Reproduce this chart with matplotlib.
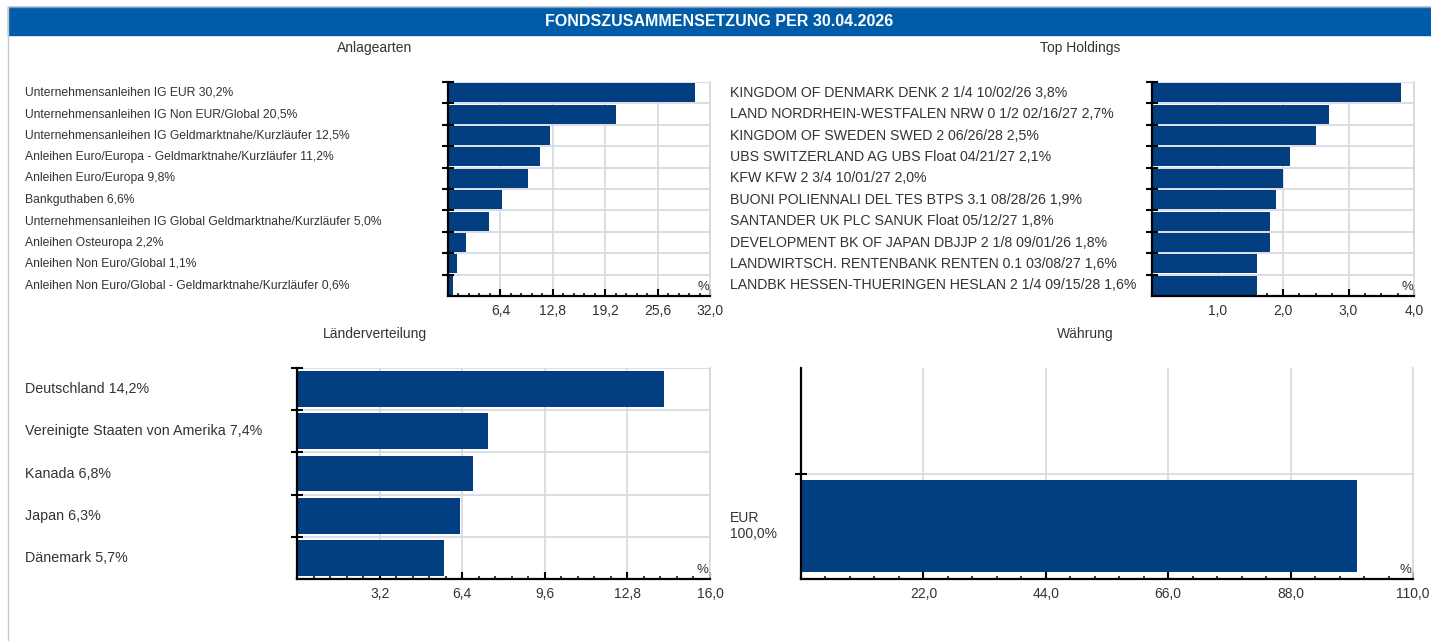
import numpy as np
import matplotlib
matplotlib.use("Agg")
import matplotlib.pyplot as plt
from matplotlib.patches import Rectangle
from matplotlib.lines import Line2D
from matplotlib.ticker import MultipleLocator, AutoMinorLocator, FuncFormatter
from matplotlib.transforms import blended_transform_factory

plt.rcParams["font.family"] = ["Liberation Sans", "DejaVu Sans"]

title = "FONDSZUSAMMENSETZUNG PER 30.04.2026"

anlage_names = [
    "Unternehmensanleihen IG EUR",
    "Unternehmensanleihen IG Non EUR/Global",
    "Unternehmensanleihen IG Geldmarktnahe/Kurzläufer",
    "Anleihen Euro/Europa - Geldmarktnahe/Kurzläufer",
    "Anleihen Euro/Europa",
    "Bankguthaben",
    "Unternehmensanleihen IG Global Geldmarktnahe/Kurzläufer",
    "Anleihen Osteuropa",
    "Anleihen Non Euro/Global",
    "Anleihen Non Euro/Global - Geldmarktnahe/Kurzläufer",
]
anlage_values = [30.2, 20.5, 12.5, 11.2, 9.8, 6.6, 5.0, 2.2, 1.1, 0.6]

holding_names = [
    "KINGDOM OF DENMARK DENK 2 1/4 10/02/26",
    "LAND NORDRHEIN-WESTFALEN NRW 0 1/2 02/16/27",
    "KINGDOM OF SWEDEN SWED 2 06/26/28",
    "UBS SWITZERLAND AG UBS Float 04/21/27",
    "KFW KFW 2 3/4 10/01/27",
    "BUONI POLIENNALI DEL TES BTPS 3.1 08/28/26",
    "SANTANDER UK PLC SANUK Float 05/12/27",
    "DEVELOPMENT BK OF JAPAN DBJJP 2 1/8 09/01/26",
    "LANDWIRTSCH. RENTENBANK RENTEN 0.1 03/08/27",
    "LANDBK HESSEN-THUERINGEN HESLAN 2 1/4 09/15/28",
]
holding_values = [3.8, 2.7, 2.5, 2.1, 2.0, 1.9, 1.8, 1.8, 1.6, 1.6]

country_names = [
    "Deutschland",
    "Vereinigte Staaten von Amerika",
    "Kanada",
    "Japan",
    "Dänemark",
]
country_values = [14.2, 7.4, 6.8, 6.3, 5.7]

currency_names = ["EUR"]
currency_values = [100.0]

BAR = "#023e80"
HEADER = "#005ca8"
GRID = "#d5d8e0"
TEXT = "#333333"
W, H = 1431, 641


def de(v):
    return f"{v:.1f}".replace(".", ",")


def px_rect(x0, y0, x1, y1):
    # pixel box (from top-left) -> figure fraction [left, bottom, width, height]
    return [x0 / W, 1 - y1 / H, (x1 - x0) / W, (y1 - y0) / H]


def style_axis(ax, xmax, step, minor):
    ax.set_xlim(0, xmax)
    ax.xaxis.set_major_locator(MultipleLocator(step))
    ax.xaxis.set_minor_locator(AutoMinorLocator(minor))
    ax.xaxis.set_major_formatter(FuncFormatter(lambda v, p: "" if abs(v) < 1e-9 else de(v)))
    ax.tick_params(axis="x", which="major", direction="in", length=5, width=1.5,
                   labelsize=10, labelcolor=TEXT, pad=6)
    ax.tick_params(axis="x", which="minor", direction="in", length=2.5, width=1.1)
    ax.tick_params(axis="y", which="major", direction="inout", length=9, width=1.5,
                   labelleft=False)
    ax.spines["top"].set_visible(False)
    ax.spines["right"].set_color(GRID)
    ax.spines["right"].set_linewidth(1.2)
    for s in ("left", "bottom"):
        ax.spines[s].set_linewidth(1.6)
        ax.spines[s].set_color("black")
    ax.grid(True, which="major", color=GRID, linewidth=1.2)
    ax.set_axisbelow(True)
    ax.text(0.997, 0.012, "%", transform=ax.transAxes, ha="right", va="bottom",
            fontsize=9.5, color=TEXT)


def hbar_panel(fig, box, names, values, xmax, step, minor, height, label_x, fs):
    ax = fig.add_axes(px_rect(*box))
    n = len(values)
    y = np.arange(n)
    ax.barh(y, values, height=height, color=BAR, zorder=2)
    ax.set_ylim(n - 0.5, -0.5)
    ax.set_yticks(y - 0.5)
    style_axis(ax, xmax, step, minor)
    tr = blended_transform_factory(fig.transFigure, ax.transData)
    for yi, name, v in zip(y, names, values):
        fig.text(label_x / W, yi, f"{name} {de(v)}%", transform=tr,
                 ha="left", va="center", fontsize=fs, color=TEXT)
    return ax


fig = plt.figure(figsize=(W / 100, H / 100), dpi=100)

# header bar and frame
fig.patches.append(Rectangle((8 / W, 1 - 35 / H), 1 - 8 / W, 28 / H,
                             transform=fig.transFigure, color=HEADER, zorder=0))
fig.lines.append(Line2D([8 / W, 1], [1 - 6.5 / H, 1 - 6.5 / H], transform=fig.transFigure,
                        color="#7f9bbf", linewidth=1))
fig.lines.append(Line2D([8 / W, 8 / W], [0, 1 - 7 / H], transform=fig.transFigure,
                        color="#c8c8c8", linewidth=1))
fig.text((8 + W) / 2 / W, 1 - 21 / H, title, ha="center", va="center",
         fontsize=11.5, fontweight="bold", color="white")

for txt, cx, cy in [("Anlagearten", 375, 48), ("Top Holdings", 1080, 48),
                    ("Länderverteilung", 375, 334), ("Währung", 1085, 334)]:
    fig.text(cx / W, 1 - cy / H, txt, ha="center", va="center", fontsize=10, color=TEXT)

hbar_panel(fig, (448, 82, 710, 296), anlage_names, anlage_values,
           32.0, 6.4, 5, 0.88, 25, 8.7)
hbar_panel(fig, (1152, 82, 1414, 296), holding_names, holding_values,
           4.0, 1.0, 4, 0.88, 730, 10.2)
hbar_panel(fig, (297, 368, 710, 579), country_names, country_values,
           16.0, 3.2, 5, 0.85, 25, 10.25)

# currency panel: single bar in the lower half of the plot area
ax = fig.add_axes(px_rect(801, 368, 1413, 579))
ax.barh([0], currency_values, height=0.87, color=BAR, zorder=2)
ax.set_ylim(-0.5, 1.5)
ax.set_yticks([0.5])
style_axis(ax, 110.0, 22.0, 5)
tr = blended_transform_factory(fig.transFigure, ax.transData)
for name, v in zip(currency_names, currency_values):
    fig.text(730 / W, 0, f"{name}\n{de(v)}%", transform=tr, ha="left", va="center",
             fontsize=10, color=TEXT, linespacing=1.2)

fig.savefig("out.png", dpi=100)
